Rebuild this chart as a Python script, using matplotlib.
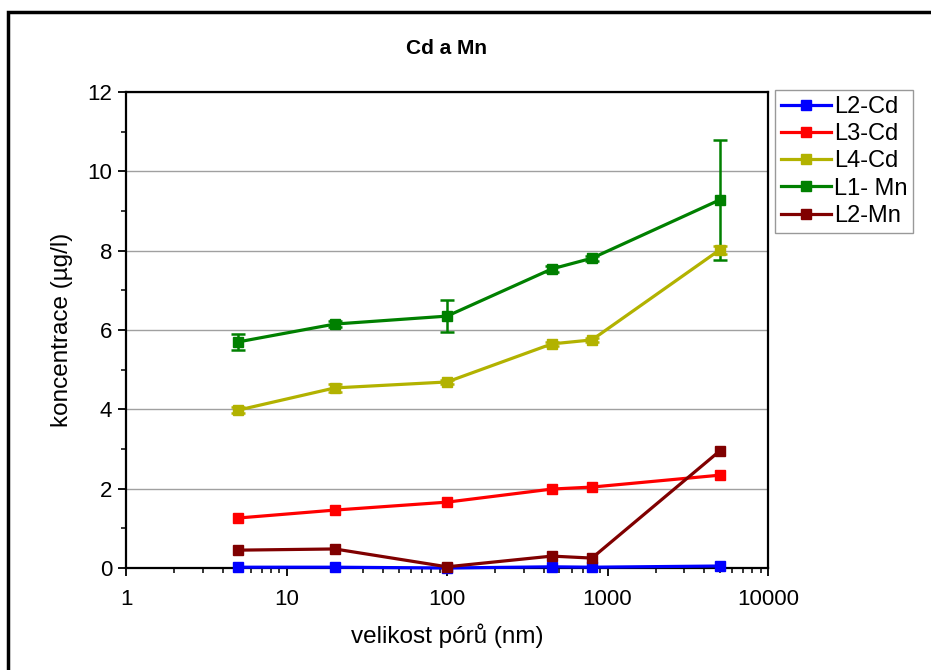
import matplotlib
matplotlib.use("Agg")
import matplotlib.pyplot as plt
from matplotlib.patches import Rectangle
from matplotlib.lines import Line2D
from matplotlib.ticker import LogLocator, FixedLocator, NullFormatter

plt.rcParams['font.family'] = ['Liberation Sans', 'DejaVu Sans']

pore = [5, 20, 100, 450, 800, 5000]
labels = ['L2-Cd', 'L3-Cd', 'L4-Cd', 'L1- Mn', 'L2-Mn']
colors = ['#0000ff', '#ff0000', '#b2b200', '#008000', '#800000']
L2_Cd = [0.02, 0.02, 0.0, 0.03, 0.02, 0.05]
L3_Cd = [1.26, 1.46, 1.66, 1.99, 2.04, 2.34]
L4_Cd = [3.98, 4.54, 4.69, 5.65, 5.75, 8.02]
L1_Mn = [5.70, 6.15, 6.35, 7.54, 7.81, 9.28]
L2_Mn = [0.45, 0.48, 0.03, 0.30, 0.25, 2.95]
L4_Cd_err = [0.08, 0.1, 0.06, 0.06, 0.06, 0.1]
L1_Mn_err = [0.2, 0.08, 0.4, 0.08, 0.06, 1.52]
series = [L2_Cd, L3_Cd, L4_Cd, L1_Mn, L2_Mn]
errs = [None, None, L4_Cd_err, L1_Mn_err, None]

fig = plt.figure(figsize=(9.31, 6.70), dpi=100)
ax = fig.add_axes([126/931, 1-568/670, (768-126)/931, (568-92)/670])

handles = []
for y, e, c, lab in zip(series, errs, colors, labels):
    ax.errorbar(pore, y, yerr=e, color=c, lw=2.3, marker='s', ms=7.5,
                capsize=5, capthick=1.8, elinewidth=1.8, clip_on=False, zorder=3)
    handles.append(Line2D([], [], color=c, lw=2.3, marker='s', ms=7.5, label=lab))

ax.set_xscale('log')
ax.set_xlim(1, 10000)
ax.set_ylim(0, 12)
ax.set_yticks([0, 2, 4, 6, 8, 10, 12])
ax.set_xticks([1, 10, 100, 1000, 10000])
ax.set_xticklabels(['1', '10', '100', '1000', '10000'])
ax.xaxis.set_minor_locator(LogLocator(base=10, subs=range(2, 10)))
ax.xaxis.set_minor_formatter(NullFormatter())
ax.yaxis.set_minor_locator(FixedLocator([1, 3, 5, 7, 9, 11]))
ax.grid(axis='y', which='major', color='#a0a0a0', lw=1)
ax.set_axisbelow(True)
ax.tick_params(axis='both', which='major', direction='out', length=6, width=1.3,
               labelsize=16, colors='black', pad=4)
ax.tick_params(axis='x', which='major', pad=9)
ax.tick_params(axis='both', which='minor', direction='out', length=3.5, width=1.1)
for s in ax.spines.values():
    s.set_linewidth(1.6)

ax.set_xlabel('velikost pórů (nm)', fontsize=17.5, labelpad=10)
ax.set_ylabel('koncentrace (µg/l)', fontsize=17.5, labelpad=10)
ax.set_title('Cd a Mn', fontsize=15, fontweight='bold', pad=27)

leg = ax.legend(handles=handles, loc='upper left', bbox_to_anchor=(1.011, 1.004), fontsize=17,
                frameon=True, fancybox=False, edgecolor='#999999', framealpha=1,
                handlelength=2.1, handletextpad=0.15, borderpad=0.25, labelspacing=0.22,
                borderaxespad=0)
leg.get_frame().set_linewidth(1.0)

fig.patches.append(Rectangle((8/931, -0.1), 1.2, 1-12/670+0.1, transform=fig.transFigure,
                             fill=False, edgecolor='black', lw=2.5))

fig.savefig('out.png', dpi=100)
